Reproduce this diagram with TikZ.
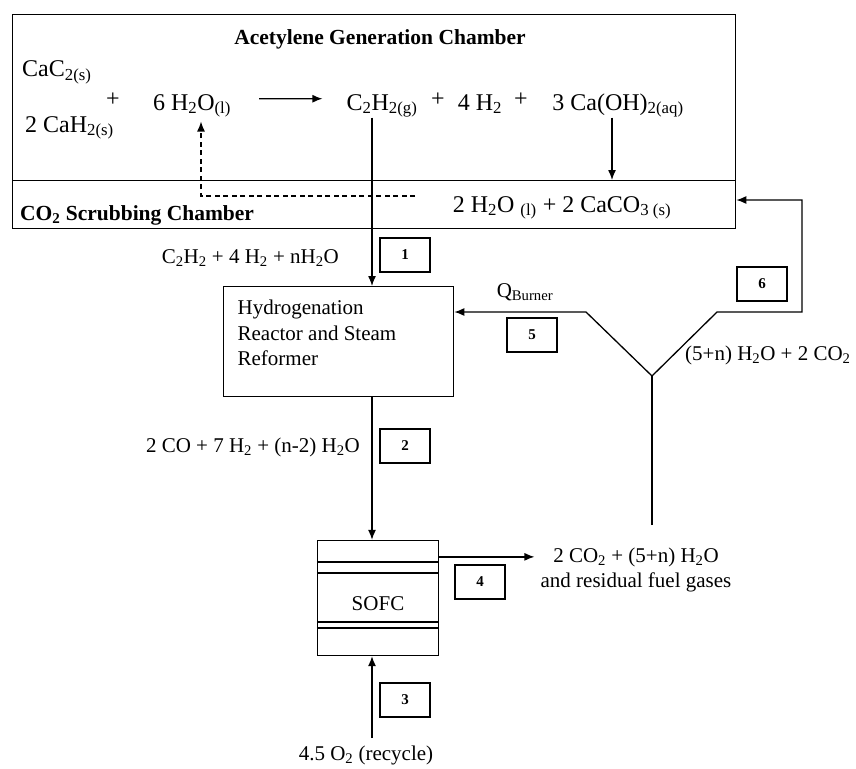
\documentclass[tikz,border=0pt]{standalone}
\usepackage{fontspec}
\setmainfont{Liberation Serif}
\usetikzlibrary{arrows.meta}
\newcommand{\chsub}[1]{\textsubscript{#1}}
\tikzset{
    flowline/.style={
        line width=1.3pt
    },
    flowarrow/.style={
        flowline,
        -{Latex[length=10pt,width=8pt]}
    },
    chamber/.style={
        draw,
        rectangle,
        line width=1.3pt,
        minimum width=723pt,
        anchor=north west,
        inner sep=0pt
    },
    rxntext/.style={
        font=\fontsize{24}{28}\selectfont,
        inner sep=0pt,
        anchor=base
    },
    streamtext/.style={
        font=\fontsize{21}{25}\selectfont,
        inner sep=0pt,
        anchor=base
    },
    titletext/.style={
        font=\fontsize{21.5}{25}\selectfont\bfseries,
        inner sep=0pt,
        anchor=base
    },
    unitbox/.style={
        draw,
        rectangle,
        line width=1.3pt,
        font=\fontsize{21}{25.5}\selectfont
    },
    streamno/.style={
        draw,
        rectangle,
        line width=1.3pt,
        minimum width=50pt,
        minimum height=34pt,
        inner sep=0pt,
        font=\fontsize{15}{18}\selectfont\bfseries
    }
}

\begin{document}
\begin{tikzpicture}[x=1pt,y=-1pt]
\useasboundingbox (0,0) rectangle (856,768);

% ---------------------------------------------------------
% Chambers
% ---------------------------------------------------------
\node[chamber, minimum height=166pt] (gen) at (12,14) {};
\node[chamber, minimum height=48pt] (scrub) at (12,180) {};
\node[titletext] (gentitle) at (380,45) {Acetylene Generation Chamber};
\node[titletext, anchor=base west] (scrubtitle) at (20,220) {CO\chsub{2} Scrubbing Chamber};

% reaction
\node[rxntext, anchor=base west] (cac2) at (22,77) {CaC\chsub{2(s)}};
\node[rxntext, anchor=base west] (cah2) at (25,132) {2 CaH\chsub{2(s)}};
\node[rxntext] (plusa) at (113,106) {+};
\node[rxntext] (water) at (192,110) {6 H\chsub{2}O\chsub{(l)}};
\node[rxntext] (c2h2) at (382,110) {C\chsub{2}H\chsub{2(g)}};
\node[rxntext] (plusb) at (438,106) {+};
\node[rxntext] (hydrogen) at (480,110) {4 H\chsub{2}};
\node[rxntext] (plusc) at (521,106) {+};
\node[rxntext] (caoh) at (618,110) {3 Ca(OH)\chsub{2(aq)}};
\node[rxntext] (products) at (562,212) {2 H\chsub{2}O \chsub{(l)} + 2 CaCO\chsub{3 (s)}};

% ---------------------------------------------------------
% Units
% ---------------------------------------------------------
\node[unitbox, anchor=north west, inner xsep=14pt, inner ysep=13.5pt] (hydro) at (223,286)
{%
    \begin{minipage}[t][83pt][t]{202pt}
        \raggedright
        Hydrogenation\\
        Reactor and Steam\\
        Reformer
    \end{minipage}
};
\node[unitbox, minimum width=121pt, minimum height=115pt, text height=24pt, text depth=0pt] (sofc) at (378,598) {SOFC};
\foreach \dy in {22,33,82,88}
    \draw[flowline] ([yshift=-\dy pt]sofc.north west) -- ([yshift=-\dy pt]sofc.north east);

% ---------------------------------------------------------
% Stream labels
% ---------------------------------------------------------
\node[streamtext, anchor=base east] (feed) at (339,263) {C\chsub{2}H\chsub{2} + 4 H\chsub{2} + nH\chsub{2}O};
\node[streamtext, anchor=base east] (syngas) at (360,452) {2 CO + 7 H\chsub{2} + (n-2) H\chsub{2}O};
\node[streamtext] (oxygen) at (366,760) {4.5 O\chsub{2} (recycle)};
\node[streamtext, anchor=center, align=center, inner xsep=6pt] (exhaust) at (636,570)
    {2 CO\chsub{2} + (5+n) H\chsub{2}O\\and residual fuel gases};
\node[streamtext] (qburner) at (525,297) {Q\chsub{Burner}};
\node[streamtext, anchor=base west] (offgas) at (685,360) {(5+n) H\chsub{2}O + 2 CO\chsub{2}};

\foreach \n/\x/\y in {1/405/255, 2/405/446, 3/405/700, 4/480/582, 5/532/335, 6/762/284}
    \node[streamno] (no\n) at (\x,\y) {\n};

% ---------------------------------------------------------
% Connectors
% ---------------------------------------------------------
\coordinate (main) at (372,0);
\coordinate (split) at (652,376);
\coordinate (stemfoot) at (652,525);
\coordinate (burnerknee) at (586,312);
\coordinate (loopknee) at (717,312);
\coordinate (looptop) at (802,200);
\coordinate (dashstart) at (415,196);
\coordinate (o2foot) at (372,738);

\draw[flowarrow] ([xshift=28pt,yshift=7pt]water.east) -- ([xshift=-24pt,yshift=7pt]c2h2.west);
\draw[flowarrow] ([xshift=-6pt]caoh.south) -- ([xshift=-6pt]caoh.south |- scrub.north);
\draw[flowarrow, dash pattern=on 5pt off 3.5pt] (dashstart) -| ([xshift=9pt,yshift=-4pt]water.south);
\draw[flowarrow] (c2h2.south -| main) -- (hydro.north -| main);
\draw[flowarrow] (hydro.south -| main) -- (sofc.north -| main);
\draw[flowarrow] (o2foot) -- (sofc.south -| main);
\draw[flowarrow] ([yshift=-17pt]sofc.north east) -- ([yshift=-17pt]sofc.north east -| exhaust.west);
\draw[flowline] (stemfoot) -- (split);
\draw[flowarrow] (split) -- (burnerknee) -- (burnerknee -| hydro.east);
\draw[flowarrow] (split) -- (loopknee) -| (looptop) -- (looptop -| scrub.east);

\end{tikzpicture}
\end{document}
